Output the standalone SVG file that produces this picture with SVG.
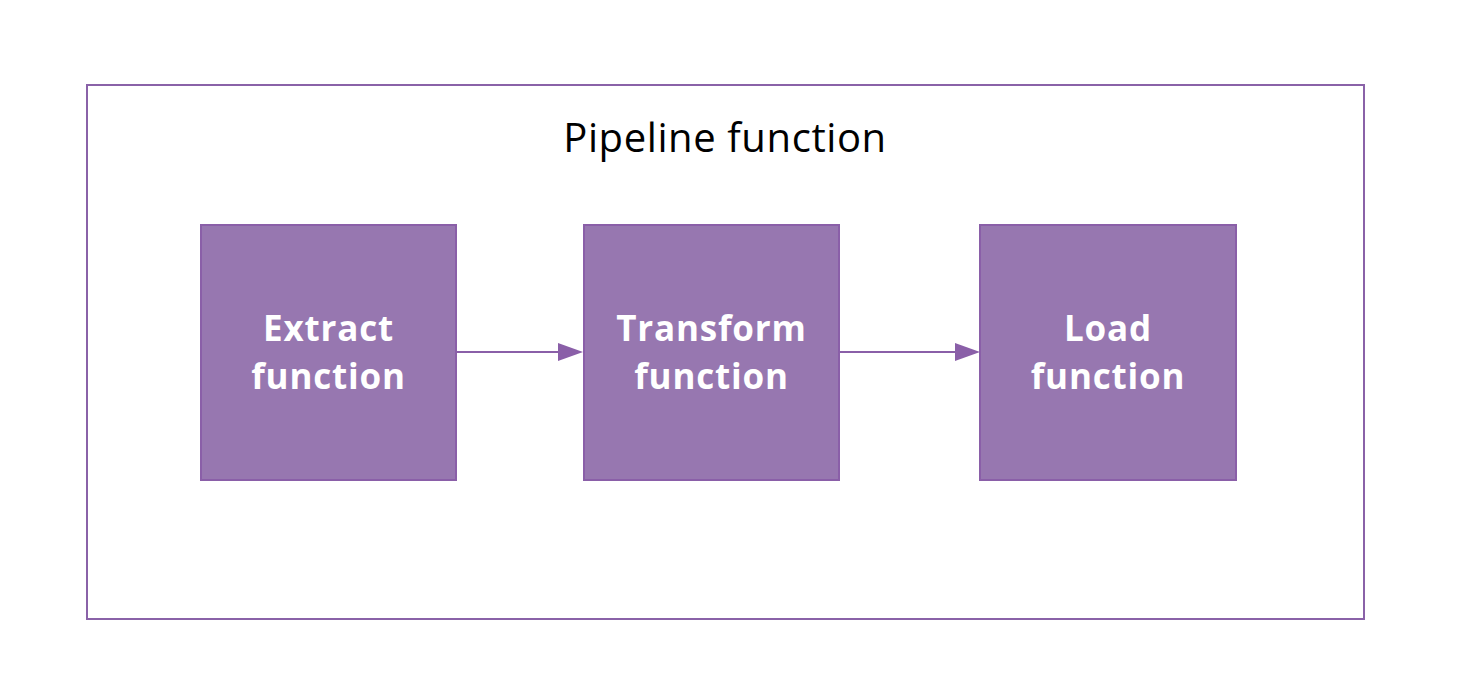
<svg xmlns="http://www.w3.org/2000/svg" width="1464" height="678" viewBox="0 0 1464 678">
<style>
.frame{fill:#ffffff;stroke:#8a62a8;stroke-width:2}
.box{fill:#9777b0;stroke:#8a5fa8;stroke-width:2}
.title{font-family:"Open Sans","Noto Sans",sans-serif;font-size:40px;letter-spacing:0.6px;fill:#000000;text-anchor:middle}
.lbl{font-family:"Open Sans","Noto Sans",sans-serif;font-size:35px;letter-spacing:0.8px;font-weight:bold;fill:#ffffff;text-anchor:middle}
.edge{stroke:#8a5fa8;stroke-width:2;fill:none}
</style>
<rect width="1464" height="678" fill="#ffffff"/>
<g id="pipeline">
<rect class="frame" x="87" y="85" width="1277" height="534"/>
<text class="title" x="725" y="152">Pipeline function</text>
</g>
<g id="extract">
<rect class="box" x="201" y="225" width="255" height="255"/>
<text class="lbl" x="328.5" y="341">Extract</text>
<text class="lbl" x="328.5" y="389">function</text>
</g>
<g id="transform">
<rect class="box" x="584" y="225" width="255" height="255"/>
<text class="lbl" x="711.5" y="341">Transform</text>
<text class="lbl" x="711.5" y="389">function</text>
</g>
<g id="load">
<rect class="box" x="980" y="225" width="256" height="255"/>
<text class="lbl" x="1108" y="341">Load</text>
<text class="lbl" x="1108" y="389">function</text>
</g>
<g id="connectors">
<line class="edge" x1="457" y1="352" x2="558" y2="352"/>
<path d="M558,343 L583,352 L558,361 Z" fill="#8a5fa8"/>
<line class="edge" x1="840" y1="352" x2="955" y2="352"/>
<path d="M955,343 L980,352 L955,361 Z" fill="#8a5fa8"/>
</g>
</svg>
